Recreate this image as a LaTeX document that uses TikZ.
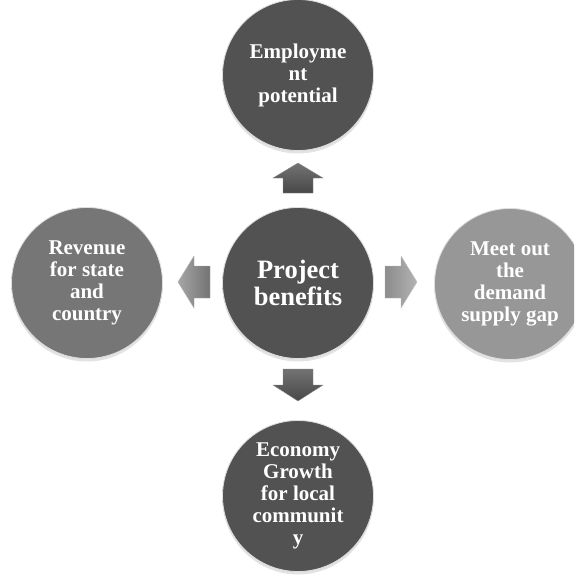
\documentclass[tikz,border=0pt]{standalone}
\usepackage{fontspec}
\setmainfont{Liberation Serif}
\usetikzlibrary{shadows}
\definecolor{dA}{HTML}{525252}
\definecolor{dB}{HTML}{5C5C5C}
\definecolor{dC}{HTML}{8A8A8A}
\definecolor{mA}{HTML}{767676}
\definecolor{mB}{HTML}{7E7E7E}
\definecolor{mC}{HTML}{A5A5A5}
\definecolor{lA}{HTML}{979797}
\definecolor{lB}{HTML}{A0A0A0}
\definecolor{lC}{HTML}{C4C4C4}
\pgfdeclareradialshading{balldark}{\pgfpoint{0bp}{0bp}}{color(0bp)=(dA); color(32bp)=(dA); color(45bp)=(dB); color(50bp)=(dC)}
\pgfdeclareradialshading{ballmid}{\pgfpoint{0bp}{0bp}}{color(0bp)=(mA); color(32bp)=(mA); color(45bp)=(mB); color(50bp)=(mC)}
\pgfdeclareradialshading{balllight}{\pgfpoint{0bp}{0bp}}{color(0bp)=(lA); color(32bp)=(lA); color(45bp)=(lB); color(50bp)=(lC)}
\tikzset{
  ball/.style={circle, minimum size=151pt, inner sep=0pt, text=white, align=center,
    font=\fontsize{21}{22}\selectfont\bfseries, shading=#1, draw=white!75!gray, line width=0.8pt,
    drop shadow={opacity=0.22, shadow xshift=0pt, shadow yshift=-3pt}},
  bigtext/.style={font=\fontsize{26.5}{27}\selectfont\bfseries},
  blockdark/.style={top color=black!55, bottom color=black!72, draw=black!45, line width=0.4pt},
  blockmid/.style={left color=black!35, right color=black!55, draw=black!30, line width=0.4pt},
  blocklight/.style={left color=black!45, right color=black!30, draw=black!25, line width=0.4pt}
}
\begin{document}
\begin{tikzpicture}[x=1pt,y=-1pt]
\fill[white] (0,0) rectangle (574,576);
\useasboundingbox (0,0) rectangle (574,576);
\clip (0,0) rectangle (574,576);

\node[ball=balldark] (top) at (298,75) {Employme\\nt\\potential};
\node[ball=balldark, bigtext] (center) at (298,283) {Project\\benefits};
\node[ball=ballmid] (left) at (87,283) {Revenue\\for state\\and\\country};
\node[ball=balllight] (right) at (510,284) {Meet out\\the\\demand\\supply gap};
\node[ball=balldark] (bottom) at (298,496) {Economy\\Growth\\for local\\communit\\y};

% block arrows
\draw[blockdark] (283,193) -- (283,178) -- (273,178) -- (298,163) -- (323,178) -- (313,178) -- (313,193) -- cycle;
\draw[blockdark] (283,369) -- (283,385) -- (273,385) -- (298,401) -- (323,385) -- (313,385) -- (313,369) -- cycle;
\draw[blockmid] (210,266) -- (194,266) -- (194,256) -- (178,282) -- (194,308) -- (194,298) -- (210,298) -- cycle;
\draw[blocklight] (385,266) -- (401,266) -- (401,256) -- (417,282) -- (401,308) -- (401,298) -- (385,298) -- cycle;
\end{tikzpicture}
\end{document}
